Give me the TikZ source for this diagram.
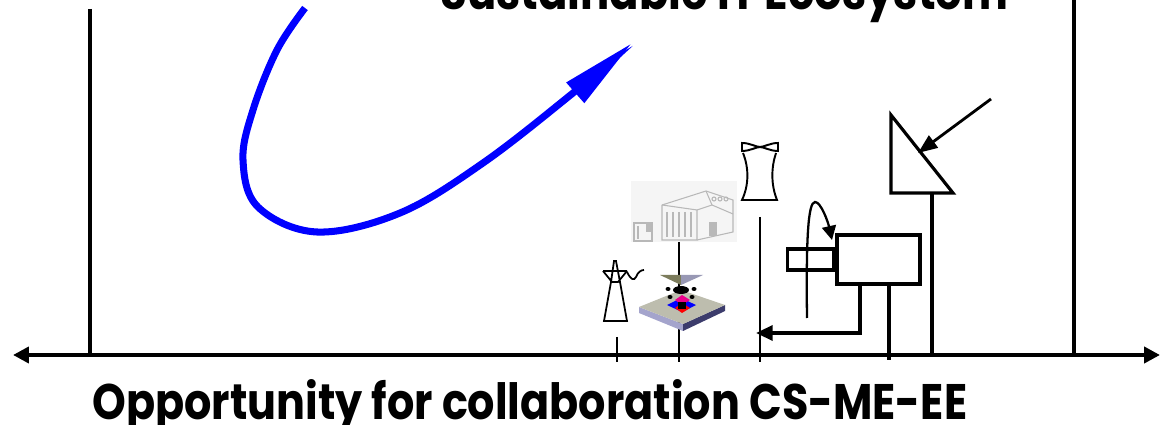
\documentclass[tikz,border=0pt]{standalone}
\usepackage{fontspec}
\usepackage{graphicx}
\setmainfont{Poppins}
\usetikzlibrary{arrows.meta}

\definecolor{plate}{HTML}{BDBDAE}
\definecolor{plateleft}{HTML}{A4A4CC}
\definecolor{plateright}{HTML}{3C3C6C}
\definecolor{sinkleft}{HTML}{7C7C5C}
\definecolor{sinkright}{HTML}{9898B4}
\definecolor{sketch}{HTML}{B8B8B8}

\tikzset{
  frameline/.style={line width=2.1pt},
  axisline/.style={line width=2.3pt,
    {Triangle[length=9pt,width=9pt]}-{Triangle[length=9pt,width=9pt]}},
  thinline/.style={line width=1.1pt},
  thickline/.style={line width=2.3pt},
  partbox/.style={draw, line width=1.8pt, fill=white, inner sep=0pt, rectangle},
  ecoarrow/.style={blue, line width=4pt, line cap=butt,
    -{Triangle[length=43pt,width=14.5pt]}},
  heading/.style={anchor=base west, inner sep=0pt},
  sketchline/.style={draw=sketch, line width=0.6pt},
}

\begin{document}
\begin{tikzpicture}[x=0.02cm, y=-0.02cm]
\useasboundingbox (0,0) rectangle (1163,425);
\clip (0,0) rectangle (1163,425);

% headings
\node[heading] (title) at (440,10)
  {\resizebox{11.36cm}{0.8cm}{\bfseries Sustainable IT Ecosystem}};
\node[heading] (caption) at (92,420)
  {\resizebox{17.5cm}{0.8cm}{\bfseries Opportunity for collaboration CS-ME-EE}};

% frame and axis
\coordinate (axL) at (13,355);
\coordinate (axR) at (1160,355);
\coordinate (lefttop) at (90,9);
\coordinate (leftbot) at (90,355);
\coordinate (righttop) at (1074,0);
\coordinate (rightbot) at (1074,355);
\draw[frameline] (lefttop) -- (leftbot);
\draw[frameline] (righttop) -- (rightbot);
\draw[axisline] (axL) -- (axR);

% the growth arrow
\draw[ecoarrow] plot[smooth, tension=0.6] coordinates
  {(305,8) (277,50) (253,110) (243,160) (258,207) (317,232) (400,213) (483,163) (573,93) (632,43)};

% building (faint sketch)
\fill[gray!8] (631,181) rectangle (737,242);
\draw[sketchline] (634,223) -- (634,241) -- (652,241) -- (652,223) -- cycle;
\draw[sketchline] (638,226) -- (638,239);
\fill[gray!55] (646,222) rectangle (651,232);
\draw[sketchline] (662,205) -- (662,240) -- (697,240) -- (697,210) -- (662,205);
\foreach \sx in {667,673,679,685,691}
  \draw[sketchline] (\sx,212) -- (\sx,237);
\draw[sketchline] (662,205) -- (706,191) -- (733,200) -- (733,232) -- (697,240);
\draw[sketchline] (697,210) -- (712,205) -- (733,214);
\draw[sketchline] (706,191) -- (712,205);
\fill[gray!55] (709,222) rectangle (717,236);
\foreach \cx in {714,720,726}
  \draw[sketchline] (\cx,199) circle (2);

% cooling tower
\coordinate (towerfoot) at (760,217);
\draw[thinline] (742,143) .. controls (750,143) and (756,147) .. (760,147)
  .. controls (764,147) and (770,143) .. (778,143) -- (778,151)
  .. controls (770,151) and (764,147) .. (760,147)
  .. controls (756,147) and (750,151) .. (742,151) -- cycle;
\draw[thinline] (743,153) .. controls (749,168) and (749,185) .. (742,200)
  -- (777,200) .. controls (771,185) and (771,168) .. (776,153);

% vertical guide lines
\draw[thinline] (towerfoot) -- (760,362);
\draw[thinline] (679,242) -- (679,362);
\draw[thinline] (617,337) -- (617,362);

% transmission pylon
\draw[line width=1pt] (603,271) -- (627,271)
  (603,271) -- (612,282) -- (618,282) -- (627,271)
  (614,261) -- (611,282) -- (604,321) -- (627,321) -- (620,282) -- (616,261) -- cycle;
\draw[line width=1pt] (627,272) .. controls (631,280) and (634,281) .. (636,277)
  .. controls (638,272) and (641,270) .. (644,270);

% processor with heat sink
\fill[plateleft] (639,307) -- (683,324) -- (683,331) -- (639,313) -- cycle;
\fill[plateright] (683,324) -- (725,305) -- (725,311) -- (683,331) -- cycle;
\fill[plate] (639,307) -- (681,290) -- (725,305) -- (683,324) -- cycle;
\fill[blue] (667,305) -- (681,298) -- (696,305) -- (682,312) -- cycle;
\fill[magenta] (675,300) -- (682,295) -- (690,300) -- (682,305) -- cycle;
\fill[red] (675,308) -- (682,303) -- (690,308) -- (682,313) -- cycle;
\fill[black] (678,302) rectangle (686,309);
\fill[black] (681,290) ellipse (8 and 4);
\foreach \px/\py in {668/289,694/289,670/297,692/297}
  \fill[black] (\px,\py) ellipse (2.5 and 2);
\fill[sinkleft] (660,275) -- (681,275) -- (681,285) -- cycle;
\fill[sinkright] (681,275) -- (703,275) -- (681,285) -- cycle;

% generator with shaft and rotation
\node[partbox, minimum width=1.66cm, minimum height=0.98cm] (motor) at (878.5,259.5) {};
\node[partbox, minimum width=0.92cm, minimum height=0.42cm, anchor=east] (shaft) at (motor.west) {};
\draw[line width=1.3pt, -{Triangle[length=8pt,width=8pt]}]
  (807,318) .. controls (806,240) and (808,202) .. (815,202)
  .. controls (821,202) and (828,222) .. (832,240);
\coordinate (elbowtop) at (860,284);
\coordinate (elbowturn) at (860,333);
\coordinate (elbowtip) at (756,333);
\draw[line width=2.1pt, -{Triangle[length=9.5pt,width=8.5pt]}]
  (elbowtop) -- (elbowturn) -- (elbowtip);
\draw[thickline] (889,284) -- (889,360);

% solar collector
\coordinate (sunA) at (891,115);
\coordinate (sunB) at (891,193);
\coordinate (sunC) at (953,193);
\draw[line width=1.8pt, line join=miter] (sunA) -- (sunB) -- (sunC) -- cycle;
\draw[thickline] (932,193) -- (932,357);
\coordinate (raystart) at (991,99);
\coordinate (rayend) at (918,153);
\draw[line width=1.6pt, -{Triangle[length=11pt,width=8.5pt]}] (raystart) -- (rayend);
\end{tikzpicture}
\end{document}
